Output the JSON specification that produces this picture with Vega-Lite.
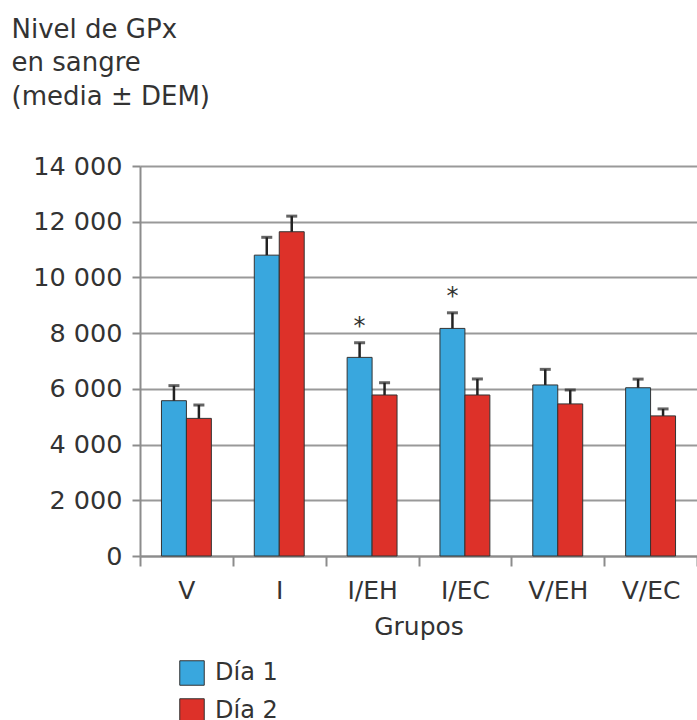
{
  "$schema": "https://vega.github.io/schema/vega-lite/v6.json",
  "autosize": "none",
  "width": 557,
  "height": 390,
  "padding": {"left": 140, "top": 166, "right": 0, "bottom": 164},
  "background": "white",
  "config": {
    "view": {"stroke": null},
    "font": "DejaVu Sans",
    "axis": {"labelFont": "DejaVu Sans", "titleFont": "DejaVu Sans", "labelColor": "#333333", "titleColor": "#333333", "titleFontWeight": "normal"}
  },
  "data": {"values": [
    {"grupo": "V", "dia": "Día 1", "media": 5575, "sup": 6115, "sig": ""},
    {"grupo": "V", "dia": "Día 2", "media": 4940, "sup": 5420, "sig": ""},
    {"grupo": "I", "dia": "Día 1", "media": 10800, "sup": 11440, "sig": ""},
    {"grupo": "I", "dia": "Día 2", "media": 11640, "sup": 12200, "sig": ""},
    {"grupo": "I/EH", "dia": "Día 1", "media": 7130, "sup": 7655, "sig": "*"},
    {"grupo": "I/EH", "dia": "Día 2", "media": 5780, "sup": 6220, "sig": ""},
    {"grupo": "I/EC", "dia": "Día 1", "media": 8170, "sup": 8730, "sig": "*"},
    {"grupo": "I/EC", "dia": "Día 2", "media": 5780, "sup": 6355, "sig": ""},
    {"grupo": "V/EH", "dia": "Día 1", "media": 6140, "sup": 6700, "sig": ""},
    {"grupo": "V/EH", "dia": "Día 2", "media": 5460, "sup": 5960, "sig": ""},
    {"grupo": "V/EC", "dia": "Día 1", "media": 6040, "sup": 6350, "sig": ""},
    {"grupo": "V/EC", "dia": "Día 2", "media": 5030, "sup": 5280, "sig": ""}
  ]},
  "encoding": {
    "x": {
      "field": "grupo", "type": "nominal", "sort": null,
      "scale": {"paddingInner": 0, "paddingOuter": 0},
      "axis": {
        "title": "Grupos", "titleFontSize": 25, "titlePadding": 11,
        "labelAngle": 0, "labelFontSize": 25, "labelPadding": 12,
        "tickBand": "extent", "tickSize": 10, "tickColor": "#8c8c8c", "tickWidth": 2,
        "domainColor": "#8c8c8c", "domainWidth": 2
      }
    },
    "xOffset": {"field": "dia", "type": "nominal", "scale": {"paddingInner": 0, "paddingOuter": 0.86}}
  },
  "layer": [
    {
      "mark": {"type": "bar", "stroke": "#333333", "strokeWidth": 1},
      "encoding": {
        "y": {
          "field": "media", "type": "quantitative",
          "scale": {"domain": [0, 14000], "nice": false},
          "axis": {
            "values": [0, 2000, 4000, 6000, 8000, 10000, 12000, 14000],
            "labelExpr": "replace(format(datum.value, ','), ',', ' ')",
            "labelFontSize": 25.5, "labelPadding": 10,
            "tickSize": 8, "tickColor": "#8c8c8c", "tickWidth": 2,
            "domainColor": "#8c8c8c", "domainWidth": 2,
            "grid": true, "gridColor": "#999999", "gridWidth": 2,
            "title": ["Nivel de GPx", "en sangre", "(media ± DEM)"],
            "titleAngle": 0, "titleAlign": "left", "titleBaseline": "top",
            "titleX": -129, "titleY": -150, "titleFontSize": 26, "titleLineHeight": 33.5
          }
        },
        "color": {
          "field": "dia", "type": "nominal",
          "scale": {"domain": ["Día 1", "Día 2"], "range": ["#39a7de", "#dd3129"]},
          "legend": {
            "title": null, "orient": "none", "legendX": 39, "legendY": 494,
            "symbolType": "square", "symbolSize": 600, "symbolStrokeColor": "#333333", "symbolStrokeWidth": 1,
            "labelFontSize": 24, "labelColor": "#333333", "labelFont": "DejaVu Sans",
            "rowPadding": 8, "padding": 0, "labelOffset": 10
          }
        }
      }
    },
    {
      "mark": {"type": "rule", "color": "#222222", "strokeWidth": 2.5},
      "encoding": {
        "y": {"field": "media", "type": "quantitative"},
        "y2": {"field": "sup"}
      }
    },
    {
      "mark": {"type": "tick", "color": "#222222", "size": 11, "thickness": 3, "orient": "horizontal"},
      "encoding": {
        "y": {"field": "sup", "type": "quantitative"}
      }
    },
    {
      "mark": {"type": "text", "fontSize": 24, "color": "#333333", "dy": -4, "baseline": "bottom", "font": "DejaVu Sans"},
      "encoding": {
        "y": {"field": "sup", "type": "quantitative"},
        "text": {"field": "sig"}
      }
    }
  ]
}
